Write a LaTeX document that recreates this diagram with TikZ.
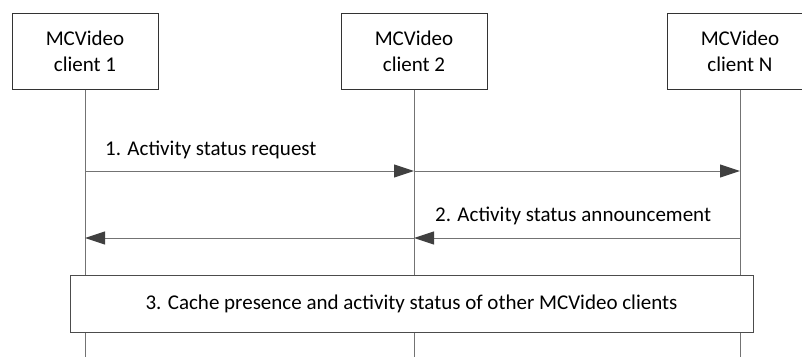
\documentclass[tikz,border=0pt]{standalone}
\usepackage{fontspec}
\setmainfont{Carlito}
\usetikzlibrary{arrows.meta}
\begin{document}
\begin{tikzpicture}[x=1pt,y=-1pt,
  actor/.style={draw=black!80,line width=1pt,fill=white,minimum width=146pt,minimum height=76pt,inner sep=0pt,align=center,font=\fontsize{21}{26}\selectfont},
  life/.style={draw=black!55,line width=1pt},
  msg/.style={draw=black!55,line width=1pt,-{Triangle[length=20pt,width=13pt,color=black!75]}},
  lbl/.style={font=\fontsize{21}{26}\selectfont,inner sep=0pt},
  procbox/.style={draw=black!70,line width=1pt,fill=white,minimum width=683pt,minimum height=57pt,inner sep=0pt,font=\fontsize{21}{26}\selectfont}]
\useasboundingbox (0,0) rectangle (802,356);
\clip (0,0) rectangle (802,356);
\node[actor] (c1) at (85,51) {MCVideo\\client 1};
\node[actor] (c2) at (414,51) {MCVideo\\client 2};
\node[actor] (cN) at (740,51) {MCVideo\\client N};
\coordinate (e1) at (85,360);
\coordinate (e2) at (414,360);
\coordinate (eN) at (740,360);
\draw[life] (c1.south) -- (e1);
\draw[life] (c2.south) -- (e2);
\draw[life] (cN.south) -- (eN);
% message 1
\coordinate (a1) at (85,171);
\coordinate (a2) at (414,171);
\coordinate (aN) at (740,171);
\draw[msg] (a1) -- (a2);
\draw[msg] (a2) -- (aN);
\node[lbl,anchor=west] (t1) at (105,150) {1. Activity status request};
% message 2
\coordinate (b1) at (85,238);
\coordinate (b2) at (414,238);
\coordinate (bN) at (740,238);
\draw[msg] (bN) -- (b2);
\draw[msg] (b2) -- (b1);
\node[lbl,anchor=west] (t2) at (435,216) {2. Activity status announcement};
% step 3
\node[procbox] (p3) at (411.5,303.5) {3. Cache presence and activity status of other MCVideo clients};
\end{tikzpicture}
\end{document}
